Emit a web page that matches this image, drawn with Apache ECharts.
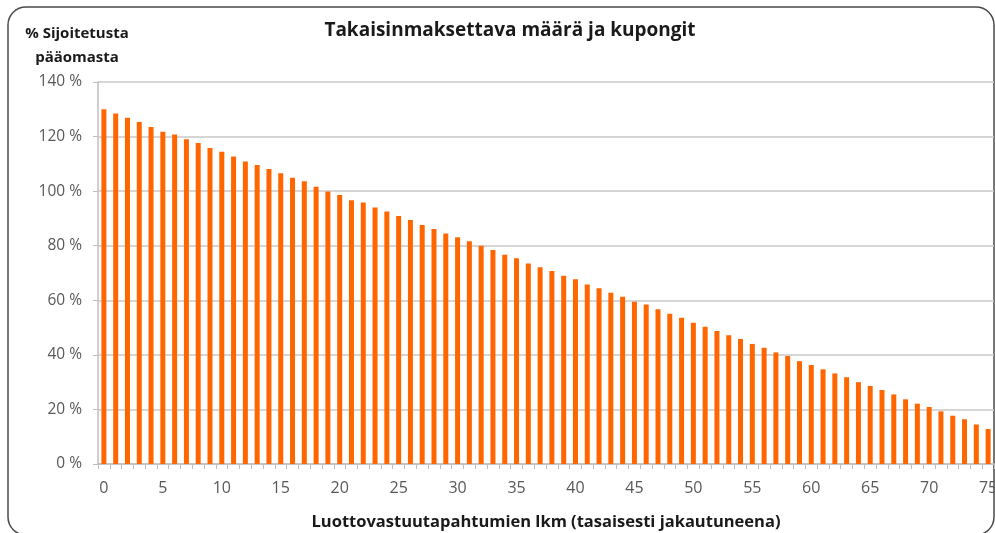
<!DOCTYPE html>
<html><head><meta charset="utf-8">
<script src="https://cdn.jsdelivr.net/npm/echarts@6/dist/echarts.min.js"></script>
<style>html,body{margin:0;padding:0;background:#fff}#c{width:995px;height:533px}</style>
</head><body><div id="c"></div>
<script>
const categories = [];
for (let i = 0; i <= 75; i++) categories.push(String(i));
const values = [
 130.0,128.5,126.9,125.3,123.5,121.8,120.8,119.0,117.6,115.8,
 114.4,112.7,110.9,109.6,108.1,106.6,104.9,103.6,101.6,99.9,
 98.6,96.7,95.8,94.0,92.5,90.9,89.4,87.6,86.1,84.5,
 83.1,81.6,80.0,78.4,76.7,75.4,73.5,72.1,70.7,69.0,
 67.7,65.8,64.4,62.8,61.3,59.5,58.5,56.7,55.1,53.6,
 51.8,50.3,48.7,47.2,45.8,44.0,42.6,40.9,39.6,37.7,
 36.3,34.7,33.2,31.8,30.0,28.6,27.1,25.5,23.7,22.1,
 20.9,19.3,17.7,16.4,14.5,12.8
];
const titleText = 'Takaisinmaksettava määrä ja kupongit';
const yTitle = '% Sijoitetusta\npääomasta';
const xTitle = 'Luottovastuutapahtumien lkm (tasaisesti jakautuneena)';
const FONT = '"Open Sans", sans-serif';

const chart = echarts.init(document.getElementById('c'));
chart.setOption({
  animation: false,
  backgroundColor: '#fff',
  title: {
    text: titleText, left: 505, top: 16, textAlign: 'center',
    textStyle: { fontFamily: FONT, fontWeight: 'bold', fontSize: 19, color: '#1a1a1a' }
  },
  graphic: [
    { type: 'rect', z: -1, shape: { x: 8, y: 7, width: 986, height: 528, r: 18 },
      style: { fill: 'none', stroke: '#4a4a4a', lineWidth: 1.5 } },
    { type: 'text', x: 77, y: 22,
      style: { text: yTitle, fontFamily: FONT, fontWeight: 'bold', fontSize: 15, lineHeight: 24,
               fill: '#1a1a1a', align: 'center', verticalAlign: 'top' } }
  ],
  grid: { left: 98, right: 1, top: 82, bottom: 69, outerBoundsMode: 'none', containLabel: false },
  xAxis: {
    type: 'category', data: categories,
    name: xTitle, nameLocation: 'middle', nameGap: 50,
    nameTextStyle: { fontFamily: FONT, fontWeight: 'bold', fontSize: 16.5, color: '#1a1a1a' },
    axisLine: { lineStyle: { color: '#bfbfbf', width: 1.5 } },
    axisTick: { show: true, interval: 0, length: 5, lineStyle: { color: '#bfbfbf' } },
    axisLabel: { interval: 4, margin: 16, fontFamily: FONT, fontSize: 16, color: '#595959' },
    splitLine: { show: false }
  },
  yAxis: {
    type: 'value', min: 0, max: 140, interval: 20,
    axisLine: { show: true, lineStyle: { color: '#bfbfbf', width: 1.5 } },
    axisTick: { show: true, length: 5, lineStyle: { color: '#bfbfbf' } },
    axisLabel: { margin: 16, fontFamily: FONT, fontSize: 15.5, color: '#595959',
                 formatter: v => v + ' %' },
    splitLine: { lineStyle: { color: '#c8c8c8', width: 1.5 } }
  },
  series: [{
    type: 'bar', data: values, barWidth: 5,
    itemStyle: { color: '#ff6600' }
  }]
});
</script></body></html>
